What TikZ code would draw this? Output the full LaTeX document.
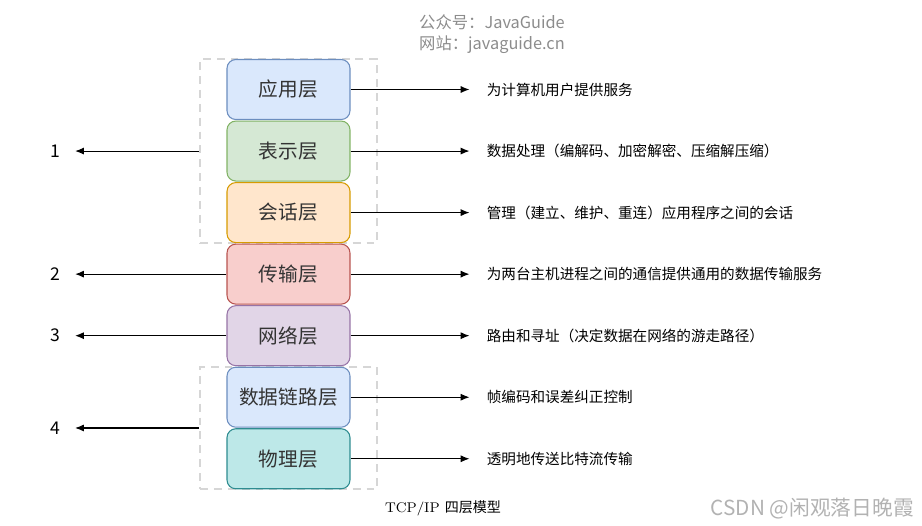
\documentclass[tikz,border=0pt]{standalone}
\usepackage{fontspec}
\newfontfamily\cjk{Noto Sans CJK SC}
\usetikzlibrary{positioning,arrows.meta,fit,backgrounds}

\definecolor{appfill}{HTML}{DAE8FC}
\definecolor{appline}{HTML}{6C8EBF}
\definecolor{presfill}{HTML}{D5E8D4}
\definecolor{presline}{HTML}{82B366}
\definecolor{sessfill}{HTML}{FFE6CC}
\definecolor{sessline}{HTML}{D79B00}
\definecolor{transfill}{HTML}{F8CECC}
\definecolor{transline}{HTML}{B85450}
\definecolor{netfill}{HTML}{E1D5E7}
\definecolor{netline}{HTML}{9673A6}
\definecolor{physfill}{HTML}{BDE8E8}
\definecolor{physline}{HTML}{2E8C90}
\definecolor{labelgray}{HTML}{333333}

\begin{document}
\begin{tikzpicture}[
    x=0.02cm, y=-0.02cm,
    node distance=0.01cm and 2.72cm,
    >={Latex[length=5pt,width=4pt]},
    layer/.style={
      draw,
      rounded corners=5pt,
      line width=0.6pt,
      text=labelgray,
      font=\cjk\fontsize{11.2}{13}\selectfont,
      minimum width=2.46cm,
      minimum height=1.2cm
    },
    desc/.style={anchor=west, inner sep=0pt, font=\cjk\fontsize{8.3}{10}\selectfont},
    num/.style={font=\cjk\fontsize{10}{12}\selectfont},
    group/.style={
      draw=black!16,
      line width=1.1pt,
      dash pattern=on 4.5pt off 3.4pt,
      inner xsep=0.53cm,
      inner ysep=0pt
    },
    link/.style={->, line width=0.6pt}
  ]
    \useasboundingbox (0,0) rectangle (922,525);

    % header
    \node[anchor=west, text=black!45, font=\cjk\fontsize{9.3}{11}\selectfont] (wechat) at (413,22) {公众号：JavaGuide};
    \node[anchor=west, text=black!45, font=\cjk\fontsize{9.3}{11}\selectfont] (site) at (413,45) {网站：javaguide.cn};

    % layer stack
    \node[layer, fill=appfill, draw=appline] (app) at (288.5,89.5) {应用层};
    \node[layer, fill=presfill, draw=presline, below=of app] (pres) {表示层};
    \node[layer, fill=sessfill, draw=sessline, below=of pres] (sess) {会话层};
    \node[layer, fill=transfill, draw=transline, below=of sess] (trans) {传输层};
    \node[layer, fill=netfill, draw=netline, below=of trans] (net) {网络层};
    \node[layer, fill=appfill, draw=appline, below=of net] (datalink) {数据链路层};
    \node[layer, fill=physfill, draw=physline, below=of datalink] (phys) {物理层};

    \begin{scope}[on background layer]
      \node[group, fit=(app)(sess)] (upper) {};
      \node[group, fit=(datalink)(phys)] (lower) {};
    \end{scope}

    % descriptions
    \node[desc, right=of app] (appdesc) {为计算机用户提供服务};
    \node[desc, right=of pres] (presdesc) {数据处理（编解码、加密解密、压缩解压缩）};
    \node[desc, right=of sess] (sessdesc) {管理（建立、维护、重连）应用程序之间的会话};
    \node[desc, right=of trans] (transdesc) {为两台主机进程之间的通信提供通用的数据传输服务};
    \node[desc, right=of net] (netdesc) {路由和寻址（决定数据在网络的游走路径）};
    \node[desc, right=of datalink] (datalinkdesc) {帧编码和误差纠正控制};
    \node[desc, right=of phys] (physdesc) {透明地传送比特流传输};

    \foreach \l in {app,pres,sess,trans,net,datalink,phys}
      \draw[link, shorten >=0.34cm] (\l) -- (\l desc);

    % TCP/IP layers
    \node[num] (one) at (55,0 |- pres) {1};
    \node[num] (two) at (55,0 |- trans) {2};
    \node[num] (three) at (55,0 |- net) {3};
    \node[num] (four) at (55,0 |- lower) {4};

    \draw[link, shorten >=0.18cm] (upper.west |- one) -- (one);
    \draw[link, shorten >=0.18cm] (trans) -- (two);
    \draw[link, shorten >=0.18cm] (net) -- (three);
    \draw[link, shorten >=0.18cm] (lower) -- (four);

    % caption
    \node[font=\fontsize{8}{10}\selectfont] (caption) at (443,508) {TCP/IP {\cjk 四层模型}};
    \node[anchor=east, text=black!30, font=\cjk\fontsize{11.8}{13}\selectfont] (mark) at (920,509) {CSDN @闲观落日晚霞};
  \end{tikzpicture}
\end{document}
